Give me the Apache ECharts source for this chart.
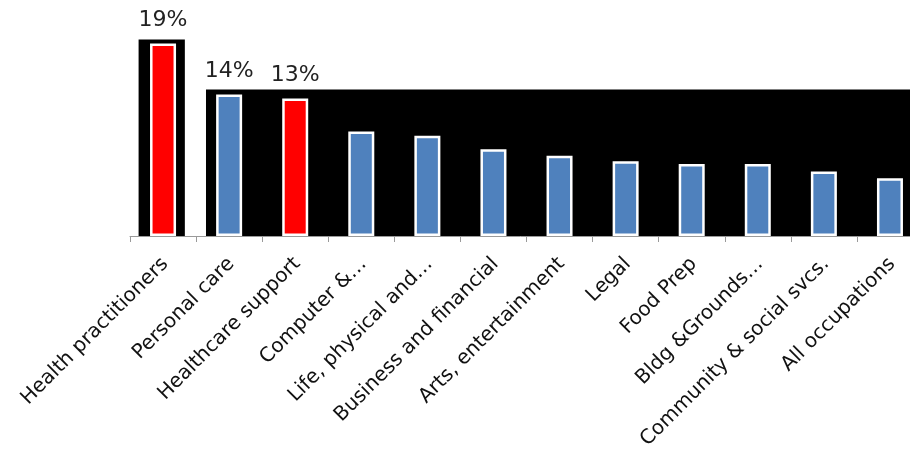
<!DOCTYPE html>
<html>
<head>
<meta charset="utf-8">
<script src="https://cdn.jsdelivr.net/npm/echarts@6/dist/echarts.min.js"></script>
<style>html,body{margin:0;padding:0;background:#fff;}#c{width:910px;height:449px;}</style>
</head>
<body>
<div id="c"></div>
<script>
const categories = ['Health practitioners','Personal care','Healthcare support','Computer &…','Life, physical and…','Business and financial','Arts, entertainment','Legal','Food Prep','Bldg &Grounds…','Community & social svcs.','All occupations'];
const values = [18.97, 13.94, 13.55, 10.3, 9.87, 8.55, 7.9, 7.37, 7.1, 7.1, 6.35, 5.7];
const valueLabels = ['19%','14%','13%','','','','','','','','',''];
const highlighted = ['Health practitioners','Healthcare support'];
// background boxes: [first category index, last category index, top value]
const boxStart = [0, 1];
const boxEnd = [0, 11];
const boxTop = [19.36, 14.43];

const boxData = boxStart.map((s, i) => [s, boxEnd[i], boxTop[i]]);
const boxEdges = [[-0.37, 0.33], [-0.35, 0.5]];

const chart = echarts.init(document.getElementById('c'));
chart.setOption({
  animation: false,
  backgroundColor: '#ffffff',
  grid: { left: 130, right: -13, top: 33, bottom: 213, containLabel: false, outerBoundsMode: 'none' },
  xAxis: {
    type: 'category',
    data: categories,
    axisLine: { lineStyle: { color: '#9a9a9a', width: 1 } },
    axisTick: { show: true, length: 6, lineStyle: { color: '#9a9a9a' } },
    axisLabel: {
      rotate: 45, interval: 0, hideOverlap: false, margin: 27,
      padding: [0, -3, 0, 0],
      fontFamily: 'DejaVu Sans', fontSize: 20, color: '#111'
    }
  },
  yAxis: { type: 'value', min: 0, max: 20, show: false, splitLine: { show: false } },
  series: [
    {
      type: 'custom',
      z: 1,
      silent: true,
      data: boxData,
      encode: { x: [0, 1], y: 2 },
      renderItem: function (params, api) {
        const band = api.size([1, 0])[0];
        const e = boxEdges[params.dataIndex];
        const pTop = api.coord([api.value(0), api.value(2)]);
        const pEnd = api.coord([api.value(1), 0]);
        const x0 = pTop[0] + e[0] * band;
        const x1 = pEnd[0] + e[1] * band;
        return {
          type: 'rect',
          shape: { x: x0, y: pTop[1], width: x1 - x0, height: pEnd[1] - pTop[1] },
          style: { fill: '#000000' }
        };
      }
    },
    {
      type: 'bar',
      z: 3,
      barWidth: 26,
      data: values.map((v, i) => ({
        value: v,
        itemStyle: { color: highlighted.includes(categories[i]) ? '#ff0000' : '#4f81bd' }
      })),
      itemStyle: { borderColor: '#ffffff', borderWidth: 2.5 },
      label: {
        show: true, position: 'top', distance: 12,
        fontFamily: 'DejaVu Sans', fontSize: 22, color: '#222',
        formatter: p => valueLabels[p.dataIndex]
      }
    }
  ]
});
</script>
</body>
</html>
